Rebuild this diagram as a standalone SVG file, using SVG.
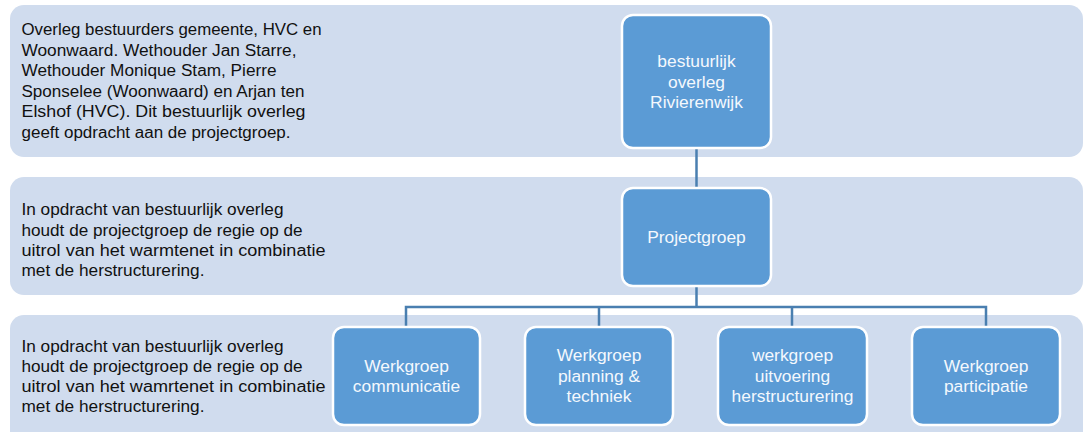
<svg xmlns="http://www.w3.org/2000/svg" width="1086" height="432" viewBox="0 0 1086 432">
<style>
.band{fill:#d0dcee;}
.node{fill:#5b9bd5;stroke:#ffffff;stroke-width:2.5;}
.desc{font-family:"Liberation Sans",Arial,sans-serif;font-size:16px;fill:#111111;}
.lbl{font-family:"Liberation Sans",Arial,sans-serif;font-size:17.4px;fill:#f4f8fd;text-anchor:middle;}
.conn{fill:none;stroke:#4a7fb0;stroke-width:2.5;}
</style>
<rect x="0" y="0" width="1086" height="432" fill="#ffffff"/>
<g id="band1"><rect class="band" x="10" y="5" width="1073" height="152" rx="14"/>
<text class="desc" x="21.5" y="35" textLength="300" lengthAdjust="spacingAndGlyphs">Overleg bestuurders gemeente, HVC en</text>
<text class="desc" x="21.5" y="55.6" textLength="275" lengthAdjust="spacingAndGlyphs">Woonwaard. Wethouder Jan Starre,</text>
<text class="desc" x="21.5" y="76.2" textLength="255" lengthAdjust="spacingAndGlyphs">Wethouder Monique Stam, Pierre</text>
<text class="desc" x="21.5" y="96.8" textLength="283" lengthAdjust="spacingAndGlyphs">Sponselee (Woonwaard) en Arjan ten</text>
<text class="desc" x="21.5" y="117.4" textLength="284" lengthAdjust="spacingAndGlyphs">Elshof (HVC). Dit bestuurlijk overleg</text>
<text class="desc" x="21.5" y="138" textLength="269" lengthAdjust="spacingAndGlyphs">geeft opdracht aan de projectgroep.</text>
</g>
<g id="band2"><rect class="band" x="10" y="177" width="1073" height="118" rx="14"/>
<text class="desc" x="21.5" y="215" textLength="262" lengthAdjust="spacingAndGlyphs">In opdracht van bestuurlijk overleg</text>
<text class="desc" x="21.5" y="235.5" textLength="281" lengthAdjust="spacingAndGlyphs">houdt de projectgroep de regie op de</text>
<text class="desc" x="21.5" y="256" textLength="304" lengthAdjust="spacingAndGlyphs">uitrol van het warmtenet in combinatie</text>
<text class="desc" x="21.5" y="276.3" textLength="183" lengthAdjust="spacingAndGlyphs">met de herstructurering.</text>
</g>
<g id="band3"><rect class="band" x="10" y="315" width="1073" height="130" rx="14"/>
<text class="desc" x="21.5" y="351.5" textLength="262" lengthAdjust="spacingAndGlyphs">In opdracht van bestuurlijk overleg</text>
<text class="desc" x="21.5" y="371.8" textLength="281" lengthAdjust="spacingAndGlyphs">houdt de projectgroep de regie op de</text>
<text class="desc" x="21.5" y="392" textLength="304" lengthAdjust="spacingAndGlyphs">uitrol van het wamrtenet in combinatie</text>
<text class="desc" x="21.5" y="412.2" textLength="183" lengthAdjust="spacingAndGlyphs">met de herstructurering.</text>
</g>
<g id="connectors">
<line class="conn" x1="696.5" y1="148" x2="696.5" y2="188"/>
<line class="conn" x1="696.5" y1="286" x2="696.5" y2="307"/>
<polyline class="conn" points="406,327 406,307 986,307 986,327"/>
<line class="conn" x1="599" y1="307" x2="599" y2="327"/>
<line class="conn" x1="792" y1="307" x2="792" y2="327"/>
</g>
<g id="node-bestuurlijk"><rect class="node" x="622" y="15" width="149" height="133" rx="11"/>
<text class="lbl" x="696.5" y="67">bestuurlijk</text>
<text class="lbl" x="696.5" y="87.5">overleg</text>
<text class="lbl" x="696.5" y="108">Rivierenwijk</text>
</g>
<g id="node-projectgroep"><rect class="node" x="622" y="188" width="149" height="98" rx="11"/>
<text class="lbl" x="696.5" y="243">Projectgroep</text>
</g>
<g id="node-communicatie"><rect class="node" x="333" y="327" width="147" height="98" rx="11"/>
<text class="lbl" x="406.5" y="371.5">Werkgroep</text>
<text class="lbl" x="406.5" y="392">communicatie</text>
</g>
<g id="node-planning"><rect class="node" x="525" y="327" width="148" height="98" rx="11"/>
<text class="lbl" x="599" y="361">Werkgroep</text>
<text class="lbl" x="599" y="381.5">planning &amp;</text>
<text class="lbl" x="599" y="402">techniek</text>
</g>
<g id="node-uitvoering"><rect class="node" x="718" y="327" width="149" height="98" rx="11"/>
<text class="lbl" x="792.5" y="361">werkgroep</text>
<text class="lbl" x="792.5" y="381.5">uitvoering</text>
<text class="lbl" x="792.5" y="402">herstructurering</text>
</g>
<g id="node-participatie"><rect class="node" x="912" y="327" width="148" height="98" rx="11"/>
<text class="lbl" x="986" y="371.5">Werkgroep</text>
<text class="lbl" x="986" y="392">participatie</text>
</g>
</svg>
